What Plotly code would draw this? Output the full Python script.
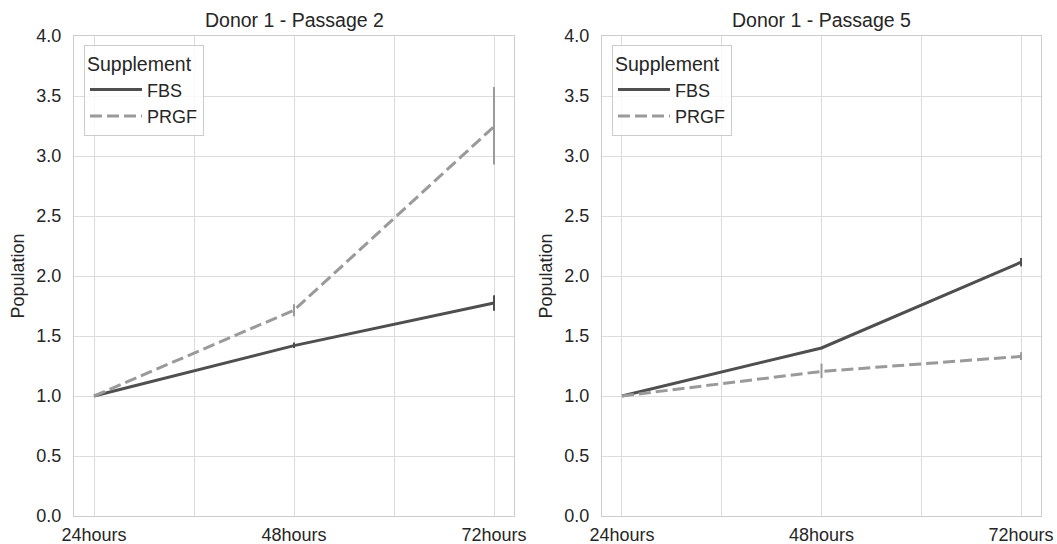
import plotly.graph_objects as go

categories = ["24hours", "48hours", "72hours"]
x_idx = list(range(len(categories)))

# Donor 1 - Passage 2
p2_fbs = [1.0, 1.42, 1.775]
p2_fbs_err_lo = [0.0, 0.02, 0.065]
p2_fbs_err_hi = [0.0, 0.025, 0.065]
p2_prgf = [1.0, 1.715, 3.245]
p2_prgf_err_lo = [0.0, 0.05, 0.315]
p2_prgf_err_hi = [0.0, 0.05, 0.33]

# Donor 1 - Passage 5
p5_fbs = [1.0, 1.40, 2.115]
p5_fbs_err_lo = [0.0, 0.01, 0.035]
p5_fbs_err_hi = [0.0, 0.01, 0.035]
p5_prgf = [1.0, 1.205, 1.33]
p5_prgf_err_lo = [0.0, 0.055, 0.03]
p5_prgf_err_hi = [0.0, 0.065, 0.035]

titles = ["Donor 1 - Passage 2", "Donor 1 - Passage 5"]
yticks = [0.0, 0.5, 1.0, 1.5, 2.0, 2.5, 3.0, 3.5, 4.0]

FBS_COLOR = "#4f4f4f"
PRGF_COLOR = "#9a9a9a"
FONT = "Liberation Sans, Arial, sans-serif"
TXT = "#262626"
W, H = 1057, 544

fig = go.Figure()

panels = [
    (p2_fbs, p2_fbs_err_lo, p2_fbs_err_hi, p2_prgf, p2_prgf_err_lo, p2_prgf_err_hi, "x", "y", "legend"),
    (p5_fbs, p5_fbs_err_lo, p5_fbs_err_hi, p5_prgf, p5_prgf_err_lo, p5_prgf_err_hi, "x2", "y2", "legend2"),
]

for fbs, fl, fh, prgf, pl, ph, xa, ya, lg in panels:
    fig.add_trace(go.Scatter(
        x=x_idx, y=fbs, mode="lines", name="FBS",
        line=dict(color=FBS_COLOR, width=3),
        error_y=dict(type="data", symmetric=False, array=fh, arrayminus=fl,
                     color=FBS_COLOR, thickness=2, width=0),
        xaxis=xa, yaxis=ya, legend=lg,
    ))
    fig.add_trace(go.Scatter(
        x=x_idx, y=prgf, mode="lines", name="PRGF",
        line=dict(color=PRGF_COLOR, width=3, dash="12px,5px"),
        error_y=dict(type="data", symmetric=False, array=ph, arrayminus=pl,
                     color=PRGF_COLOR, thickness=2, width=0),
        xaxis=xa, yaxis=ya, legend=lg,
    ))

xd1 = [74 / W, 514 / W]
xd2 = [602 / W, 1041 / W]
yd = [1 - 516 / H, 1 - 36 / H]

xtv = [0, 0.5, 1, 1.5, 2]
xtt = [categories[0], "", categories[1], "", categories[2]]

axis_common = dict(
    showgrid=True, gridcolor="#dcdcdc", gridwidth=1,
    showline=True, linecolor="#cccccc", linewidth=1.2, mirror=True,
    zeroline=False, ticks="", automargin=False,
    tickfont=dict(family=FONT, size=18, color=TXT),
)

for i, (xa, ya, xd) in enumerate([("xaxis", "yaxis", xd1), ("xaxis2", "yaxis2", xd2)]):
    anchor_y = "y" if i == 0 else "y2"
    anchor_x = "x" if i == 0 else "x2"
    fig.update_layout(**{
        xa: dict(axis_common, domain=xd, range=[-0.1, 2.1], tickmode="array",
                 tickvals=xtv, ticktext=xtt, anchor=anchor_y, ticklabelstandoff=2),
        ya: dict(axis_common, domain=yd, range=[0, 4.0], tickmode="array",
                 tickvals=yticks, ticktext=[f"{v:.1f}" for v in yticks],
                 anchor=anchor_x, ticklabelstandoff=8,
                 title=dict(text="Population", standoff=6,
                            font=dict(family=FONT, size=18, color=TXT))),
    })

annotations = []
for t, xd in zip(titles, [xd1, xd2]):
    annotations.append(dict(
        text=t, x=(xd[0] + xd[1]) / 2, y=yd[1], xref="paper", yref="paper",
        xanchor="center", yanchor="bottom", yshift=3, showarrow=False,
        font=dict(family=FONT, size=19.5, color=TXT),
    ))

legend_common = dict(
    xref="paper", yref="paper", xanchor="left", yanchor="top",
    bgcolor="rgba(255,255,255,0.8)", bordercolor="#cccccc", borderwidth=1,
    font=dict(family=FONT, size=18, color=TXT),
    title=dict(text="Supplement", font=dict(family=FONT, size=19.5, color=TXT)),
    itemwidth=52, tracegroupgap=0,
)

fig.update_layout(
    width=W, height=H,
    margin=dict(l=0, r=0, t=0, b=0),
    paper_bgcolor="white", plot_bgcolor="white",
    annotations=annotations,
    legend=dict(legend_common, x=84 / W, y=1 - 45 / H),
    legend2=dict(legend_common, x=612 / W, y=1 - 45 / H),
    font=dict(family=FONT, color=TXT),
)

fig.write_html("out.html")
